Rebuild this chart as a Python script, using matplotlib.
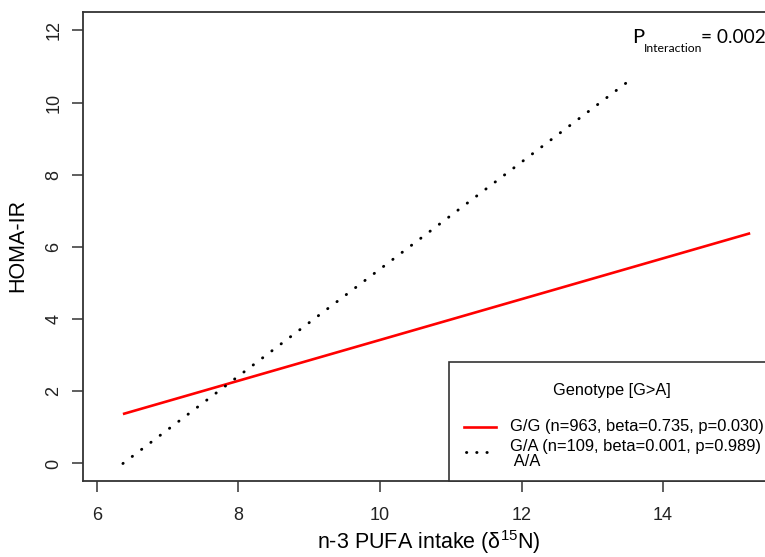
import matplotlib
matplotlib.use("Agg")
import matplotlib.pyplot as plt
from matplotlib.lines import Line2D
from matplotlib.patches import Rectangle

plt.rcParams['font.family'] = ['Liberation Sans', 'DejaVu Sans']
plt.rcParams['mathtext.fontset'] = 'custom'
plt.rcParams['mathtext.rm'] = 'Liberation Sans'

# fitted lines (start / end points)
x_gg = [6.37, 15.23]
y_gg = [1.37, 6.38]
x_ga = [6.37, 13.57]
y_ga = [0.0, 10.68]

xticks = [6, 8, 10, 12, 14]
yticks = [0, 2, 4, 6, 8, 10, 12]
legend_title = "Genotype [G>A]"
labels = ["G/G (n=963, beta=0.735, p=0.030)",
          "G/A (n=109, beta=0.001, p=0.989)\n A/A"]

W, H = 765, 557
fig = plt.figure(figsize=(W / 100, H / 100), dpi=100)

def fx(px):
    return px / W

def fy(py):
    return 1 - py / H

ax = fig.add_axes([fx(83), fy(481), fx(770) - fx(83), fy(12) - fy(481)])
ax.plot(x_gg, y_gg, color='red', lw=1.9, solid_capstyle='butt')
ax.plot(x_ga, y_ga, color='black', lw=2.1, linestyle=(0, (0.1, 3.9)),
        dash_capstyle='round')

ax.set_xlim(5.806, 15.51)
ax.set_ylim(-0.485, 12.51)
ax.set_xticks(xticks)
ax.set_yticks(yticks)
ax.tick_params(axis='both', direction='out', length=8, width=1.1,
               color='#333333', labelsize=13, labelcolor='#222222')
ax.tick_params(axis='x', pad=11)
ax.tick_params(axis='y', pad=7)
for lab in ax.get_yticklabels():
    lab.set_rotation(90)
    lab.set_va('center')
for sp in ax.spines.values():
    sp.set_color('#333333')
    sp.set_linewidth(1.3)

fig.text(fx(429), fy(542), "n-3 PUFA intake (δ$^{15}$N)", ha='center',
         va='center', fontsize=15.5)
fig.text(fx(18), fy(245), "HOMA-IR", ha='center', va='center',
         rotation=90, fontsize=15.5)

# P interaction annotation
fig.text(fx(632), fy(43), "P", fontsize=14.5, family='Lato', va='baseline')
fig.text(fx(644), fy(52), "Interaction", fontsize=8.8, family='Lato',
         va='baseline')
fig.text(fx(701), fy(43), "= 0.002", fontsize=13.8, family='Lato',
         va='baseline')

# legend box
fig.add_artist(Rectangle((fx(449), fy(481)), fx(780) - fx(449),
                         fy(362) - fy(481), transform=fig.transFigure,
                         facecolor='white', edgecolor='#333333', lw=1.2))
fig.text(fx(612), fy(390), legend_title, ha='center', va='center',
         fontsize=11.8)
fig.add_artist(Line2D([fx(464), fx(496)], [fy(427), fy(427)],
                      transform=fig.transFigure, color='red', lw=1.9))
fig.add_artist(Line2D([fx(466), fx(496)], [fy(452), fy(452)],
                      transform=fig.transFigure, color='black', lw=2.1,
                      linestyle=(0, (0.1, 3.4)), dash_capstyle='round'))
fig.text(fx(510), fy(427), labels[0], va='center', fontsize=11.9)
fig.text(fx(510), fy(454), labels[1], va='center', fontsize=11.9,
         linespacing=1.0)

fig.savefig("out.png", dpi=100)
